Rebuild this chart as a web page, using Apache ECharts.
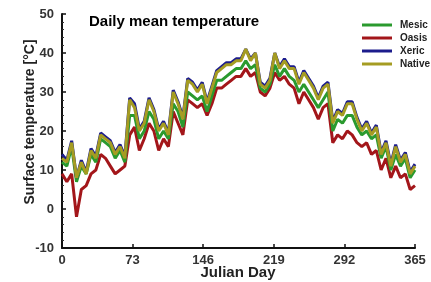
<!DOCTYPE html>
<html>
<head>
<meta charset="utf-8">
<script src="https://cdn.jsdelivr.net/npm/echarts@6/dist/echarts.min.js"></script>
<style>
  html, body { margin: 0; padding: 0; background: #fff; }
  #chart { width: 431px; height: 282px; }
</style>
</head>
<body>
<div id="chart"></div>
<script>
// Julian day sampling (every 5 days)
const days = [0,5,10,15,20,25,30,35,40,45,50,55,60,65,70,75,80,85,90,95,100,105,110,115,120,125,130,135,140,145,150,155,160,165,170,175,180,185,190,195,200,205,210,215,220,225,230,235,240,245,250,255,260,265,270,275,280,285,290,295,300,305,310,315,320,325,330,335,340,345,350,355,360,365]

// daily mean surface temperature (°C)
const oasis = [9,7,9,-2,5,6,9,10,14,13,11,9,10,11,19,21,15,18,22,20,15,18,16,25,22,19,28,27,26,27,24,27,31,31,32,33,34,34,36,34,35,30,29,31,35,33,34,32,31,27,30,28,26,23,26,27,17,19,18,20,19,17,16,17,14,15,10,13,8,11,8,9,5,6]
const mesic = [12,11,16,7,11,9,14,12,18,17,16,13,15,12,24,24,18,20,25,23,18,20,18,27,25,21,30,29,28,29,25,29,33,33,34,35,36,36,38,36,37,31,30,32,37,34,36,34,33,30,32,30,28,26,28,30,20,23,22,24,24,21,19,20,18,19,13,16,10,14,11,13,8,10]
const xeric = [14,12.5,17.5,8,12.5,9.5,15.5,13.5,19.5,18.5,17.5,14.5,16.5,13.5,28.5,27,20.5,22.5,28.5,25.5,20.5,22.5,19.5,30.5,27.5,23.5,33.5,32.5,30.5,32.5,27.5,31.5,35.5,36.5,37.5,37.5,38.5,38.5,41,38.5,40,32.5,31.5,33.5,40,36.5,38.5,36.5,36.5,32.5,35.5,33.5,31.5,28.5,31.5,32.5,22.5,25.5,24.5,27.5,27.5,23.5,20.5,22.5,19.5,21.5,14.5,17.5,11.5,16.5,12.5,14.5,9.5,11.5]
const native = [13,12,17,8,12,9,15,13,19,18,17,14,16,13,28,26,20,22,28,25,20,22,19,30,27,23,33,32,30,32,27,31,35,36,37,37,38,38,41,38,40,32,31,33,40,36,38,36,36,32,35,33,31,28,31,32,22,25,24,27,27,23,20,22,19,21,14,17,11,16,12,14,9,11]

const font = '"Liberation Sans", Arial, sans-serif'

const pairs = (vals) => days.map((d, i) => [d, vals[i]])

const mk = (name, vals, color) => ({
  name: name,
  type: 'line',
  data: pairs(vals),
  showSymbol: false,
  lineStyle: { width: 3, color: color },
  itemStyle: { color: color },
  animation: false
})

const myChart = echarts.init(document.getElementById('chart'))
myChart.setOption({
  backgroundColor: '#fff',
  title: {
    text: 'Daily mean temperature',
    left: 84,
    top: 9,
    textStyle: { fontFamily: font, fontSize: 15, fontWeight: 'bold', color: '#000' }
  },
  legend: {
    orient: 'vertical',
    left: 357,
    top: 14,
    icon: 'rect',
    itemWidth: 30,
    itemHeight: 3,
    itemGap: 1,
    data: ['Mesic', 'Oasis', 'Xeric', 'Native'],
    textStyle: { fontFamily: font, fontSize: 10, fontWeight: 'bold', color: '#222', padding: [0, 0, 0, 3], lineHeight: 12 }
  },
  // axis titles drawn by hand so they sit where the original ones do
  graphic: [{
    type: 'text',
    x: 30,
    y: 122,
    rotation: Math.PI / 2,
    style: {
      text: 'Surface temperature [°C]',
      font: 'bold 14px ' + font,
      fill: '#222',
      align: 'center',
      verticalAlign: 'middle'
    }
  }, {
    type: 'text',
    x: 238,
    y: 273,
    style: {
      text: 'Julian Day',
      font: 'bold 15px ' + font,
      fill: '#222',
      align: 'center',
      verticalAlign: 'middle'
    }
  }],
  grid: { left: 62, right: 16, top: 14, bottom: 34, outerBoundsMode: 'none', containLabel: false },
  xAxis: {
    type: 'value',
    min: 0,
    max: 365,
    interval: 73,
    axisLine: { show: true, onZero: false, lineStyle: { color: '#111', width: 2 } },
    axisTick: { inside: true, length: 4, lineStyle: { color: '#111', width: 1.5 } },
    axisLabel: { fontFamily: font, fontSize: 13, fontWeight: 'bold', color: '#333', margin: 6 },
    splitLine: { show: false }
  },
  yAxis: {
    type: 'value',
    min: -10,
    max: 50,
    interval: 10,
    axisLine: { show: true, lineStyle: { color: '#111', width: 2 } },
    axisTick: { inside: true, length: 4, lineStyle: { color: '#111', width: 1.5 } },
    minorTick: { show: true, splitNumber: 5, length: 2, lineStyle: { color: '#333' } },
    axisLabel: { fontFamily: font, fontSize: 13, fontWeight: 'bold', color: '#333', margin: 8 },
    splitLine: { show: false }
  },
  series: [
    mk('Oasis', oasis, '#a3161a'),
    mk('Mesic', mesic, '#2a9a2e'),
    mk('Xeric', xeric, '#1c1c8c'),
    mk('Native', native, '#a59c22')
  ]
})
</script>
</body>
</html>
